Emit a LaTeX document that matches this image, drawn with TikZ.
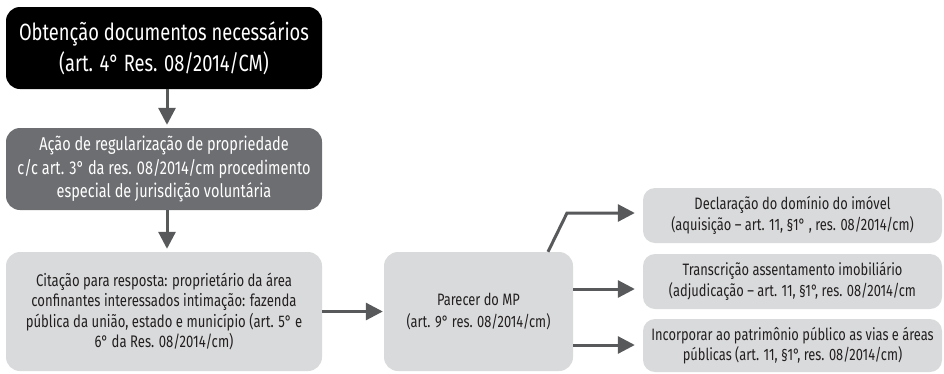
\documentclass[tikz,border=0pt]{standalone}
\usepackage{fontspec}
\setmainfont{Fira Sans}[FakeStretch=0.78]
\usetikzlibrary{arrows.meta}
\definecolor{darkbox}{HTML}{6D6E71}
\definecolor{lightbox}{HTML}{D9DADB}
\definecolor{arrowgray}{HTML}{58595B}
\definecolor{textdark}{HTML}{231F20}
\begin{document}
\begin{tikzpicture}[x=1pt,y=-1pt,
 box/.style={rounded corners=14pt, align=center, inner sep=0pt, text=textdark, fill=lightbox},
 conn/.style={draw=arrowgray, line width=3pt, -{Triangle[length=17pt,width=17pt]}}]
\useasboundingbox (0,0) rectangle (944,373);
\node[box, fill=black, text=white, minimum width=316pt, minimum height=82pt, font=\fontsize{23.5}{31}\selectfont] (b1) at (164,48) {Obtenção documentos necessários\\(art. 4° Res. 08/2014/CM)};
\node[box, fill=darkbox, text=white, minimum width=316pt, minimum height=82pt, font=\fontsize{18.6}{23.5}\selectfont] (b2) at (164,169) {Ação de regularização de propriedade\\c/c art. 3° da res. 08/2014/cm procedimento\\especial de jurisdição voluntária};
\node[box, minimum width=316pt, minimum height=119pt, font=\fontsize{16.8}{20.5}\selectfont] (b3) at (164,311.5) {Citação para resposta: proprietário da área\\confinantes interessados intimação: fazenda\\pública da união, estado e município (art. 5° e\\6° da Res. 08/2014/cm)};
\node[box, minimum width=189pt, minimum height=119pt, font=\fontsize{16.5}{22}\selectfont] (b4) at (478.5,311.5) {Parecer do MP\\(art. 9° res. 08/2014/cm)};
\node[box, rounded corners=12pt, minimum width=299pt, minimum height=55pt, font=\fontsize{16.5}{20.5}\selectfont] (r1) at (792.5,215.5) {Declaração do domínio do imóvel\\(aquisição – art. 11, §1° , res. 08/2014/cm)};
\node[box, rounded corners=12pt, minimum width=299pt, minimum height=55pt, font=\fontsize{16.5}{20.5}\selectfont] (r2) at (792.5,281.5) {Transcrição assentamento imobiliário\\(adjudicação – art. 11, §1°, res. 08/2014/cm};
\node[box, rounded corners=12pt, minimum width=299pt, minimum height=53pt, font=\fontsize{16.5}{20.5}\selectfont] (r3) at (792.5,345.5) {Incorporar ao patrimônio público as vias e áreas\\públicas (art. 11, §1°, res. 08/2014/cm)};
\draw[conn, shorten >=3pt] ([xshift=3pt]b1.south) -- ([xshift=3pt]b2.north);
\draw[conn, shorten >=3pt] ([xshift=3pt]b2.south) -- ([xshift=3pt]b3.north);
\draw[conn, shorten >=1pt] (b3.east) -- (b4.west);
\coordinate (m1) at ([xshift=69.5pt]b4.north);
\coordinate (k1) at (567,213);
\coordinate (m2) at ([yshift=22.5pt]b4.east);
\coordinate (m3) at ([yshift=-33.5pt]b4.east);
\draw[conn, shorten >=8pt] (m1) -- (k1) -- (k1 -| r1.west);
\draw[conn, shorten >=8pt] (m2) -- (m2 -| r2.west);
\draw[conn, shorten >=8pt] (m3) -- (m3 -| r3.west);
\end{tikzpicture}
\end{document}
